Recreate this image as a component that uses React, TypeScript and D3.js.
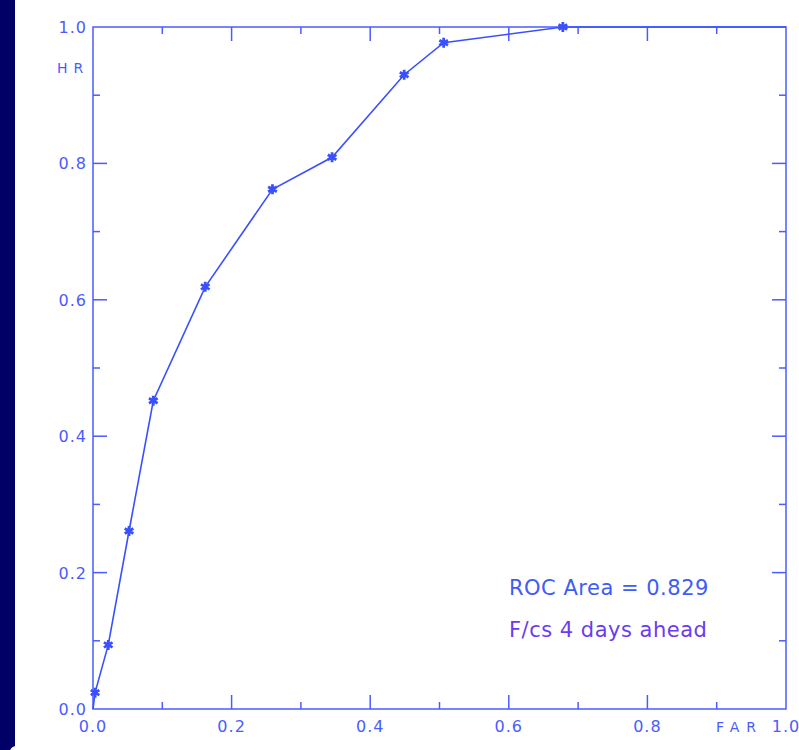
import React, { useEffect, useRef } from "react";
import * as d3 from "d3";

// ROC curve points (false alarm rate, hit rate)
const far = [0.0, 0.003, 0.022, 0.052, 0.087, 0.162, 0.259, 0.345, 0.449, 0.506, 0.678, 1.0];
const hr = [0.0, 0.024, 0.094, 0.261, 0.452, 0.619, 0.762, 0.809, 0.93, 0.977, 1.0, 1.0];
// points that carry an asterisk marker
const marked = [1, 2, 3, 4, 5, 6, 7, 8, 9, 10];

const majorTicks = [0, 0.2, 0.4, 0.6, 0.8, 1.0];
const minorTicks = [0.1, 0.3, 0.5, 0.7, 0.9];
const xTickLabels = ["0.0", "0.2", "0.4", "0.6", "0.8", "1.0"];
const yTickLabels = ["0.0", "0.2", "0.4", "0.6", "0.8", "1.0"];

const annotations = ["ROC Area = 0.829", "F/cs 4 days ahead"];

const App = () => {
  const ref = useRef<SVGSVGElement>(null);

  useEffect(() => {
    const svg = d3.select(ref.current);
    svg.selectAll("*").remove();

    const W = 799, H = 750;
    const left = 93, right = 786, top = 27, bottom = 709;
    const axisColor = "#4a5cff";
    const lineColor = "#3a50ff";
    const font = "DejaVu Sans, sans-serif";

    svg.append("rect").attr("width", W).attr("height", H).attr("fill", "#ffffff");
    svg.append("rect").attr("width", 15).attr("height", H).attr("fill", "#000066");
    // little white blob bottom-left
    svg.append("circle").attr("cx", 16).attr("cy", 752).attr("r", 6).attr("fill", "#ffffff");

    const x = d3.scaleLinear().domain([0, 1]).range([left, right]);
    const y = d3.scaleLinear().domain([0, 1]).range([bottom, top]);

    // frame
    svg.append("rect")
      .attr("x", left).attr("y", top)
      .attr("width", right - left).attr("height", bottom - top)
      .attr("fill", "none").attr("stroke", axisColor).attr("stroke-width", 1.5);

    const g = svg.append("g").attr("stroke", axisColor).attr("stroke-width", 1.5);
    const tickSets: [number[], number][] = [[majorTicks.slice(1, -1), 14], [minorTicks, 7]];
    tickSets.forEach(([ticks, len]) => {
      ticks.forEach((t) => {
        // bottom & top
        g.append("line").attr("x1", x(t)).attr("x2", x(t)).attr("y1", bottom).attr("y2", bottom - len);
        g.append("line").attr("x1", x(t)).attr("x2", x(t)).attr("y1", top).attr("y2", top + len);
        // left & right
        g.append("line").attr("y1", y(t)).attr("y2", y(t)).attr("x1", left).attr("x2", left + len);
        g.append("line").attr("y1", y(t)).attr("y2", y(t)).attr("x1", right).attr("x2", right - len);
      });
    });

    // tick labels
    majorTicks.forEach((t, i) => {
      svg.append("text")
        .attr("x", x(t)).attr("y", 732)
        .attr("text-anchor", "middle")
        .attr("font-family", font).attr("font-size", 16).attr("letter-spacing", 1)
        .attr("fill", axisColor)
        .text(xTickLabels[i]);
      svg.append("text")
        .attr("x", 87).attr("y", y(t) + 6)
        .attr("text-anchor", "end")
        .attr("font-family", font).attr("font-size", 16).attr("letter-spacing", 1)
        .attr("fill", axisColor)
        .text(yTickLabels[i]);
    });

    svg.append("text").attr("x", 57).attr("y", 73)
      .attr("font-family", font).attr("font-size", 14).attr("letter-spacing", 6)
      .attr("fill", axisColor).text("HR");
    svg.append("text").attr("x", 716).attr("y", 732)
      .attr("font-family", font).attr("font-size", 14).attr("letter-spacing", 7)
      .attr("fill", axisColor).text("FAR");

    // curve
    const pts = far.map((f, i) => [f, hr[i]] as [number, number]);
    const line = d3.line<[number, number]>().x((d) => x(d[0])).y((d) => y(d[1]));
    svg.append("path").datum(pts)
      .attr("d", line)
      .attr("fill", "none").attr("stroke", lineColor).attr("stroke-width", 1.6);

    const star = d3.symbol().type(d3.symbolAsterisk).size(70);
    svg.selectAll(".mk")
      .data(marked)
      .join("path")
      .attr("transform", (i) => `translate(${x(far[i])},${y(hr[i])})`)
      .attr("d", star)
      .attr("fill", "none").attr("stroke", lineColor).attr("stroke-width", 2.8);

    svg.append("text").attr("x", 509).attr("y", 595)
      .attr("font-family", font).attr("font-size", 21).attr("letter-spacing", 0.5)
      .attr("fill", "#3f5cf5").text(annotations[0]);
    svg.append("text").attr("x", 509).attr("y", 637)
      .attr("font-family", font).attr("font-size", 21).attr("letter-spacing", 0.5)
      .attr("fill", "#6a3cf0").text(annotations[1]);
  }, []);

  return <svg ref={ref} width={799} height={750} style={{ position: "absolute", left: 0, top: 0 }} />;
};

export default App;
